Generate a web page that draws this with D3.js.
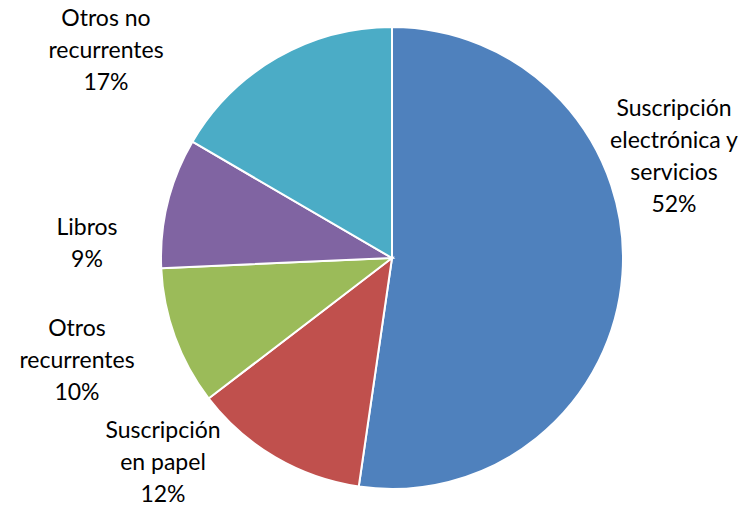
<!DOCTYPE html>
<html>
<head>
<meta charset="utf-8">
<script src="https://cdn.jsdelivr.net/npm/d3@7"></script>
<style>
  body { margin: 0; background: #fff; }
  text { font-family: Lato, "Open Sans", sans-serif; fill: #000; }
</style>
</head>
<body>
<div id="chart"></div>
<script>
// categories in drawing order, clockwise from 12 o'clock
var categories = ['Suscripción electrónica y servicios', 'Suscripción en papel', 'Otros recurrentes', 'Libros', 'Otros no recurrentes'];
// shares (labels show them rounded)
var values = [52.3, 12.3, 9.7, 9.1, 16.6];
var labelLines = [
	['Suscripción', 'electrónica y', 'servicios'],
	['Suscripción', 'en papel'],
	['Otros', 'recurrentes'],
	['Libros'],
	['Otros no', 'recurrentes']
];
var colors = ['#4F81BD', '#C0504D', '#9BBB59', '#8064A2', '#4BACC6'];

var params = {
	width: 749,
	height: 506,
	cx: 392,
	cy: 258,
	radius: 231,
	lineHeight: 32,
	// label anchor (center of text block) for each slice
	labelPos: [[674, 156], [163, 462], [77, 360], [87, 243], [106, 50]]
};

var data = categories.map(function(c, i){
	return {name: c, value: values[i], lines: labelLines[i], color: colors[i], pos: params.labelPos[i]};
});

var svg = d3.select('#chart')
	.append('svg')
		.attr('width', params.width)
		.attr('height', params.height);

var pie = d3.pie()
	.sort(null)
	.value(function(d){ return d.value; });

var arc = d3.arc()
	.innerRadius(0)
	.outerRadius(params.radius);

var g = svg.append('g')
	.attr('transform', 'translate(' + params.cx + ',' + params.cy + ')');

g.selectAll('.slice')
	.data(pie(data)).enter()
	.append('path')
		.attr('class', 'slice')
		.attr('d', arc)
		.attr('fill', function(d){ return d.data.color; })
		.attr('stroke', '#fff')
		.attr('stroke-width', 2);

// labels: category lines + percentage underneath
var labels = svg.selectAll('.label')
	.data(data).enter()
	.append('text')
		.attr('class', 'label')
		.attr('text-anchor', 'middle')
		.style('font-size', '23px');

labels.each(function(d){
	var lines = d.lines.concat([Math.round(d.value) + '%']);
	var top = d.pos[1] - (lines.length - 1) * params.lineHeight / 2;
	var t = d3.select(this);
	lines.forEach(function(l, i){
		t.append('tspan')
			.attr('x', d.pos[0])
			.attr('y', top + i * params.lineHeight)
			.attr('dy', '0.35em')
			.text(l);
	});
});
</script>
</body>
</html>
